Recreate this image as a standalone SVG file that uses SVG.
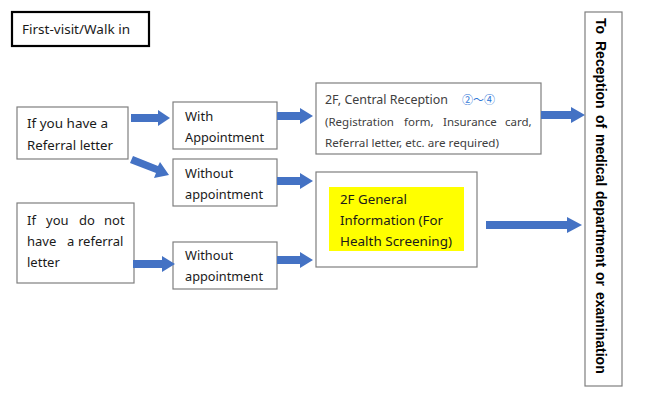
<svg xmlns="http://www.w3.org/2000/svg" width="650" height="402" viewBox="0 0 650 402">
<defs>
<style>
.bx{fill:#fff;stroke:#7f7f7f;stroke-width:1.2}
.t{font-family:"Noto Sans","DejaVu Sans",sans-serif;font-size:13px;fill:#1a1a1a}
.g{fill:#404040}
.s{font-family:"Noto Sans","DejaVu Sans",sans-serif;font-size:11.5px;fill:#404040}
.v{font-family:"Liberation Sans","Arial",sans-serif;font-size:14px;font-weight:bold;fill:#000}
.ar{fill:#4472c4}
</style>
</defs>
<rect width="650" height="402" fill="#fff"/>
<g id="title">
<rect x="12" y="12" width="137" height="34" fill="#fff" stroke="#000" stroke-width="2.2"/>
<text class="t" x="22" y="34" textLength="108" lengthAdjust="spacingAndGlyphs">First-visit/Walk in</text>
</g>
<g id="referral">
<rect class="bx" x="17" y="107" width="111" height="52"/>
<text class="t" x="27" y="128" textLength="81" lengthAdjust="spacingAndGlyphs">If you have a</text>
<text class="t" x="27" y="150" textLength="86" lengthAdjust="spacingAndGlyphs">Referral letter</text>
</g>
<g id="noreferral">
<rect class="bx" x="17" y="203" width="117" height="80"/>
<text class="t" x="27" y="225">If</text>
<text class="t" x="46" y="225">you</text>
<text class="t" x="79" y="225">do</text>
<text class="t" x="104" y="225">not</text>
<text class="t" x="27" y="246">have</text>
<text class="t" x="67" y="246">a</text>
<text class="t" x="78" y="246">referral</text>
<text class="t" x="27" y="267">letter</text>
</g>
<g id="withappt">
<rect class="bx" x="173" y="102" width="104" height="47"/>
<text class="t" x="185" y="121">With</text>
<text class="t" x="185" y="142" textLength="79" lengthAdjust="spacingAndGlyphs">Appointment</text>
</g>
<g id="without1">
<rect class="bx" x="173" y="159" width="104" height="47"/>
<text class="t" x="185" y="178" textLength="48" lengthAdjust="spacingAndGlyphs">Without</text>
<text class="t" x="185" y="199" textLength="78" lengthAdjust="spacingAndGlyphs">appointment</text>
</g>
<g id="without2">
<rect class="bx" x="173" y="242" width="104" height="47"/>
<text class="t" x="185" y="260" textLength="48" lengthAdjust="spacingAndGlyphs">Without</text>
<text class="t" x="185" y="281" textLength="78" lengthAdjust="spacingAndGlyphs">appointment</text>
</g>
<g id="central">
<rect class="bx" x="316" y="83" width="225" height="71"/>
<text class="t g" x="325" y="104" textLength="123" lengthAdjust="spacingAndGlyphs">2F, Central Reception</text>
<text x="462" y="104" textLength="33" lengthAdjust="spacingAndGlyphs" style="fill:#2e75d6;font-family:'Noto Sans CJK JP',sans-serif;font-size:11.5px">②～④</text>
<text class="s" x="325" y="126">(Registration</text>
<text class="s" x="404" y="126">form,</text>
<text class="s" x="443" y="126">Insurance</text>
<text class="s" x="505" y="126">card,</text>
<text class="s" x="325" y="147" textLength="174" lengthAdjust="spacingAndGlyphs">Referral letter, etc. are required)</text>
</g>
<g id="general">
<rect class="bx" x="316" y="172" width="161" height="95"/>
<rect x="329" y="187" width="135" height="64" fill="#ffff00"/>
<text class="t" x="340" y="204" textLength="67" lengthAdjust="spacingAndGlyphs">2F General</text>
<text class="t" x="340" y="225" textLength="103" lengthAdjust="spacingAndGlyphs">Information (For</text>
<text class="t" x="340" y="246" textLength="112" lengthAdjust="spacingAndGlyphs">Health Screening)</text>
</g>
<g id="destination">
<rect class="bx" x="585" y="12" width="37" height="374"/>
<g transform="translate(596,0) rotate(90)">
<text class="v" x="18" y="0">To</text>
<text class="v" x="41" y="0">Reception</text>
<text class="v" x="115" y="0">of</text>
<text class="v" x="134" y="0">medical</text>
<text class="v" x="191" y="0">department</text>
<text class="v" x="272" y="0">or</text>
<text class="v" x="292" y="0">examination</text>
</g>
</g>
<g id="connectors">
<polygon class="ar" points="131,114 158,114 158,110 170,118 158,126 158,122 131,122"/>
<polygon class="ar" points="133,156 158,166 160,162 169,175 154,178 156,173 130,163"/>
<polygon class="ar" points="277,112 300,112 300,108 313,116 300,124 300,120 277,120"/>
<polygon class="ar" points="277,177 300,177 300,173 313,181 300,189 300,185 277,185"/>
<polygon class="ar" points="133,260 162,260 162,256 175,264 162,272 162,268 133,268"/>
<polygon class="ar" points="277,256 300,256 300,252 313,260 300,268 300,264 277,264"/>
<polygon class="ar" points="541,111 571,111 571,107 585,115 571,123 571,119 541,119"/>
<polygon class="ar" points="486,221 567,221 567,217 582,225 567,233 567,229 486,229"/>
</g>
</svg>
